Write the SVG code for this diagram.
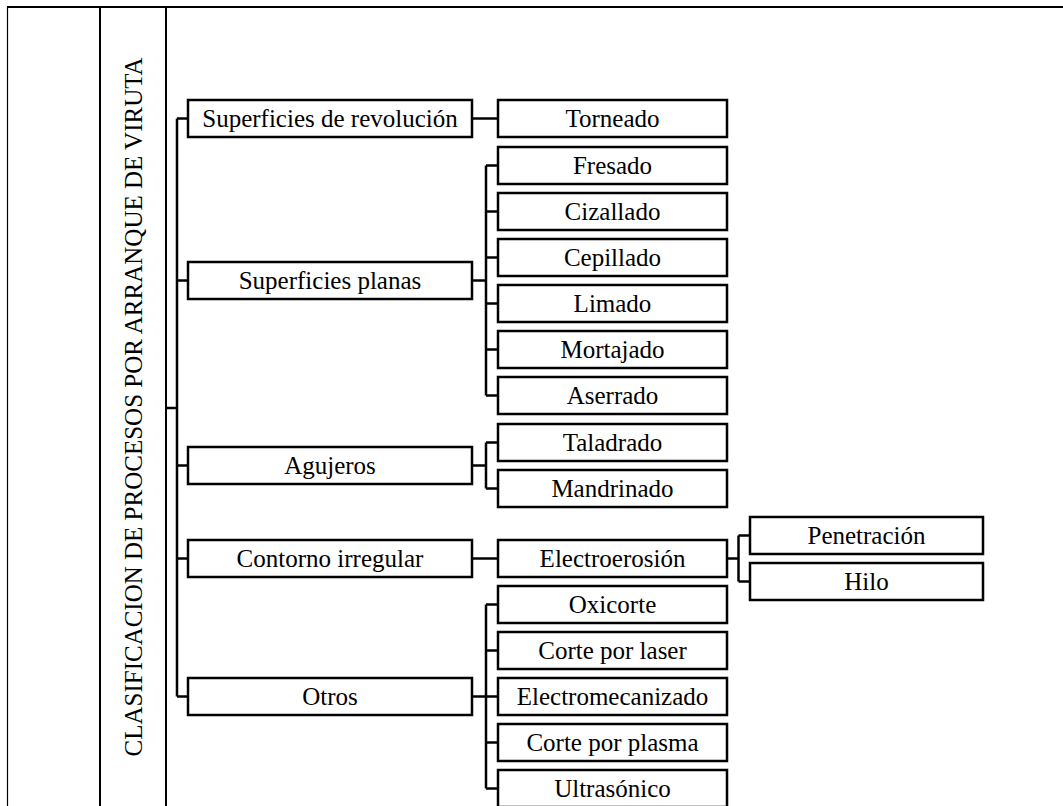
<svg xmlns="http://www.w3.org/2000/svg" width="1063" height="806" viewBox="0 0 1063 806">
<style>
.frame{fill:none;stroke:#000;stroke-width:2}
.thin{fill:none;stroke:#000;stroke-width:1.2}
.box{fill:#fff;stroke:#000;stroke-width:2.5}
.ln{fill:none;stroke:#000;stroke-width:2.5}
.t{font-family:'Liberation Serif',serif;font-size:25px;fill:#000;text-anchor:middle}
</style>
<rect width="1063" height="806" fill="#fff"/>
<g id="frame">
<line class="thin" x1="7.5" y1="7" x2="7.5" y2="806"/>
<line class="frame" x1="7" y1="7" x2="1063" y2="7"/>
</g>
<g id="title">
<path class="frame" d="M100,806 V7 H166 V806"/>
<text class="t" font-family="Liberation Serif, serif" transform="translate(141.5,407) rotate(-90)">CLASIFICACION DE PROCESOS POR ARRANQUE DE VIRUTA</text>
</g>
<g id="connectors">
<path class="ln" d="M166,408 H177 M177,118.5 V696.5 M177,118.5 H188 M177,280.5 H188 M177,465.5 H188 M177,558.5 H188 M177,696.5 H188"/>
<path class="ln" d="M472,118.5 H498"/>
<path class="ln" d="M472,280.5 H486 M486,165.5 V395.5 M486,165.5 H498 M486,211.5 H498 M486,257.5 H498 M486,303.5 H498 M486,349.5 H498 M486,395.5 H498"/>
<path class="ln" d="M472,465.5 H486 M486,442.5 V488.5 M486,442.5 H498 M486,488.5 H498"/>
<path class="ln" d="M472,558.5 H498"/>
<path class="ln" d="M727,558.5 H738.5 M738.5,535.5 V581.5 M738.5,535.5 H750 M738.5,581.5 H750"/>
<path class="ln" d="M472,696.5 H486 M486,604.5 V788.5 M486,604.5 H498 M486,650.5 H498 M486,696.5 H498 M486,742.5 H498 M486,788.5 H498"/>
</g>
<g class="t" font-family="Liberation Serif, serif">
<g id="n-revolucion"><rect class="box" x="188" y="100" width="284" height="37"/><text x="330" y="127">Superficies de revolución</text></g>
<g id="n-planas"><rect class="box" x="188" y="262" width="284" height="37"/><text x="330" y="289">Superficies planas</text></g>
<g id="n-agujeros"><rect class="box" x="188" y="447" width="284" height="37"/><text x="330" y="474">Agujeros</text></g>
<g id="n-contorno"><rect class="box" x="188" y="540" width="284" height="37"/><text x="330" y="567">Contorno irregular</text></g>
<g id="n-otros"><rect class="box" x="188" y="678" width="284" height="37"/><text x="330" y="705">Otros</text></g>
<g id="n-torneado"><rect class="box" x="498" y="100" width="229" height="37"/><text x="612.5" y="127">Torneado</text></g>
<g id="n-fresado"><rect class="box" x="498" y="147" width="229" height="37"/><text x="612.5" y="174">Fresado</text></g>
<g id="n-cizallado"><rect class="box" x="498" y="193" width="229" height="37"/><text x="612.5" y="220">Cizallado</text></g>
<g id="n-cepillado"><rect class="box" x="498" y="239" width="229" height="37"/><text x="612.5" y="266">Cepillado</text></g>
<g id="n-limado"><rect class="box" x="498" y="285" width="229" height="37"/><text x="612.5" y="312">Limado</text></g>
<g id="n-mortajado"><rect class="box" x="498" y="331" width="229" height="37"/><text x="612.5" y="358">Mortajado</text></g>
<g id="n-aserrado"><rect class="box" x="498" y="377" width="229" height="37"/><text x="612.5" y="404">Aserrado</text></g>
<g id="n-taladrado"><rect class="box" x="498" y="424" width="229" height="37"/><text x="612.5" y="451">Taladrado</text></g>
<g id="n-mandrinado"><rect class="box" x="498" y="470" width="229" height="37"/><text x="612.5" y="497">Mandrinado</text></g>
<g id="n-electroerosion"><rect class="box" x="498" y="540" width="229" height="37"/><text x="612.5" y="567">Electroerosión</text></g>
<g id="n-oxicorte"><rect class="box" x="498" y="586" width="229" height="37"/><text x="612.5" y="613">Oxicorte</text></g>
<g id="n-laser"><rect class="box" x="498" y="632" width="229" height="37"/><text x="612.5" y="659">Corte por laser</text></g>
<g id="n-electromecanizado"><rect class="box" x="498" y="678" width="229" height="37"/><text x="612.5" y="705">Electromecanizado</text></g>
<g id="n-plasma"><rect class="box" x="498" y="724" width="229" height="37"/><text x="612.5" y="751">Corte por plasma</text></g>
<g id="n-ultrasonico"><rect class="box" x="498" y="770" width="229" height="37"/><text x="612.5" y="797">Ultrasónico</text></g>
<g id="n-penetracion"><rect class="box" x="750" y="517" width="233" height="37"/><text x="866.5" y="544">Penetración</text></g>
<g id="n-hilo"><rect class="box" x="750" y="563" width="233" height="37"/><text x="866.5" y="590">Hilo</text></g>
</g>
</svg>
